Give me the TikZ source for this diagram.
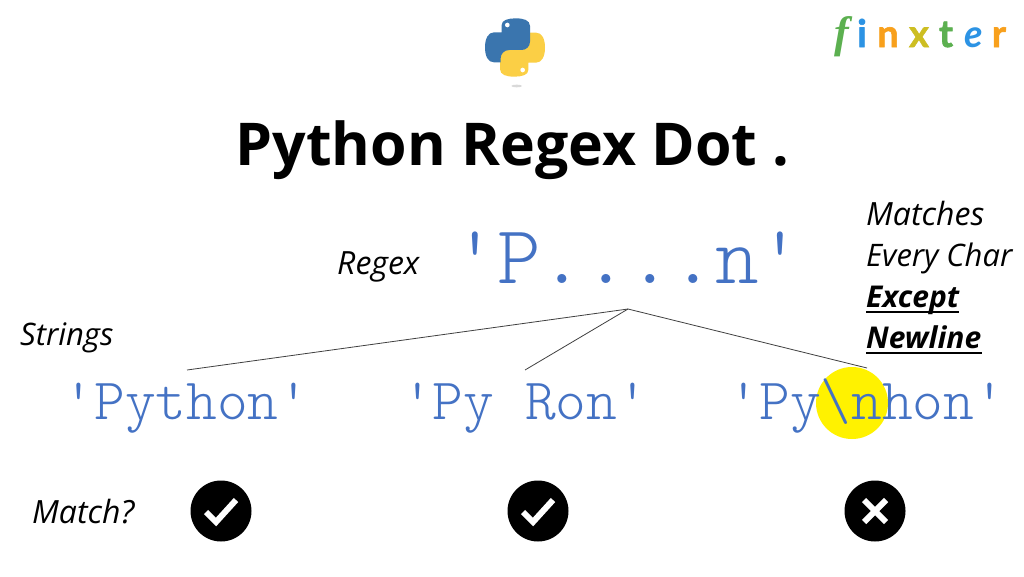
\documentclass[tikz,border=0pt]{standalone}
\usepackage{fontspec}
\setmainfont{Open Sans}
\setmonofont{Latin Modern Mono Light}
\newfontfamily\logofont[BoldFeatures={FakeBold=1.5}]{Lato}
\newfontfamily\effont{Liberation Serif}
\definecolor{codeblue}{HTML}{4472C4}
\definecolor{pyblue}{HTML}{3A75AE}
\definecolor{pyyellow}{HTML}{FBCF45}
\definecolor{fgreen}{HTML}{5CB050}
\definecolor{fblue}{HTML}{2C93E4}
\definecolor{forange}{HTML}{F8A01C}
\definecolor{folive}{HTML}{CDBE22}
\tikzset{
  lbl/.style={inner sep=0pt,anchor=base west,font=\fontsize{32}{32}\selectfont\itshape},
  lblsmall/.style={lbl,font=\fontsize{31}{31}\selectfont\itshape},
  boldlbl/.style={lbl,font=\fontsize{30}{30}\selectfont\bfseries\itshape},
  code/.style={inner sep=0pt,anchor=base west,text=codeblue,font=\fontsize{58.5}{58.5}\selectfont\ttfamily},
  letter/.style={inner sep=0pt,anchor=base,font=\fontsize{38}{38}\selectfont\logofont\bfseries},
  disc/.style={circle,fill=black,draw=none,minimum size=61pt,inner sep=0pt},
  wire/.style={draw=black!75,line width=0.8pt},
  tick/.style={draw=white,line width=6pt}
}
\begin{document}
\begin{tikzpicture}[x=1pt,y=-1pt]
\useasboundingbox (0,0) rectangle (1024,576);
\fill[white] (0,0) rectangle (1024,576);
% python logo
\begin{scope}[shift={(460,0)},x=0.3333pt,y=-0.3333pt]
  \fill[black!15] (170,258) ellipse (16 and 4);
  \def\snake{(165,97) -- (125,97) -- (125,75) .. controls (125,60) and (145,55) .. (167,55)
    .. controls (190,55) and (210,60) .. (210,78) -- (210,125)
    .. controls (210,140) and (198,150) .. (185,150) -- (148,150)
    .. controls (132,150) and (122,162) .. (122,175) -- (122,187) -- (102,187)
    .. controls (85,187) and (75,170) .. (75,142) .. controls (75,115) and (85,97) .. (102,97) -- cycle}
  \fill[pyyellow] [rotate around={180:(165,142.5)}] \snake;
  \fill[pyyellow] (125,185) rectangle (205,195);
  \fill[pyblue] \snake;
  \fill[white] (142,75) circle (7);
  \fill[white] (188,210) circle (7);
\end{scope}
% finxter
\node[letter,text=fgreen,font=\fontsize{44}{44}\selectfont\effont\bfseries\itshape] (lf) at (842,47) {f};
\node[letter,text=fblue] (li) at (862,47) {i};
\node[letter,text=forange] (ln) at (888,47) {n};
\node[letter,text=folive] (lx) at (919,47) {x};
\node[letter,text=fgreen] (lt) at (946,47) {t};
\node[letter,text=fblue,font=\fontsize{38}{38}\selectfont\logofont\bfseries\itshape] (le) at (974,47) {e};
\node[letter,text=forange] (lr) at (999,47) {r};
% title
\node[inner sep=0pt,anchor=base west,font=\fontsize{59}{59}\selectfont\bfseries] (title) at (235.5,165) {Python Regex Dot .};
% highlight
\fill[yellow] (852,403) circle (36);
% regex
\node[lbl] (rx) at (337,274) {Regex};
\node[code,font=\fontsize{83}{83}\selectfont\ttfamily] (pat) at (453.5,283) {\textquotesingle P....n\textquotesingle};
\node[lblsmall] (st) at (20,345) {Strings};
\node[lbl] (m1) at (866,225) {Matches};
\node[lblsmall] (m2) at (866,266) {Every Char};
\node[boldlbl] (m3) at (866,307) {Except};
\node[boldlbl] (m4) at (866,348) {Newline};
\draw[line width=2.5pt] (m3.base west)++(0,5) -- ++(93,0);
\draw[line width=2.5pt] (m4.base west)++(0,5) -- ++(116,0);
% strings
\node[code] (s1) at (63.5,419) {\textquotesingle Python\textquotesingle};
\node[code] (s2) at (402,419) {\textquotesingle Py Ron\textquotesingle};
\node[code] (s3) at (728.5,419) {\textquotesingle Py\textbackslash nhon\textquotesingle};
% connectors
\coordinate (apex) at (628,309);
\coordinate (e1) at (187,370);
\coordinate (e2) at (525,370);
\coordinate (e3) at (867,368);
\draw[wire] (apex) -- (e1);
\draw[wire] (apex) -- (e2);
\draw[wire] (apex) -- (e3);
% match
\node[lbl] (mq) at (32,523) {Match?};
\node[disc] (c1) at (221,511) {};
\node[disc] (c2) at (538,511) {};
\node[disc] (c3) at (875,511) {};
\draw[tick] ([shift={(-15,1)}]c1.center) -- ([shift={(-5,11)}]c1.center) -- ([shift={(15,-11)}]c1.center);
\draw[tick] ([shift={(-15,1)}]c2.center) -- ([shift={(-5,11)}]c2.center) -- ([shift={(15,-11)}]c2.center);
\draw[tick] ([shift={(-11,-11)}]c3.center) -- ([shift={(11,11)}]c3.center);
\draw[tick] ([shift={(-11,11)}]c3.center) -- ([shift={(11,-11)}]c3.center);
\end{tikzpicture}
\end{document}
